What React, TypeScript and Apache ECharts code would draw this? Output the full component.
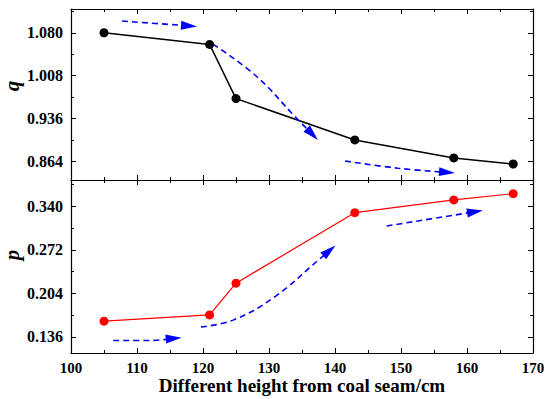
import React, { useEffect, useRef } from "react";
import * as echarts from "echarts";

const heights = [105, 121, 125, 143, 158, 167];
const qValues = [1.08, 1.0604, 0.9697, 0.9004, 0.8702, 0.8601];
const pValues = [0.1606, 0.1704, 0.22, 0.33, 0.3499, 0.3597];

const xRange = [100, 170];
const qRange = [0.8333, 1.1198];
const pRange = [0.111, 0.381];

const qTickLabels = [0.864, 0.936, 1.008, 1.08];
const qMinorTicks = [0.9, 0.972, 1.044, 1.116];
const pTickLabels = [0.136, 0.204, 0.272, 0.34];
const pMinorTicks = [0.17, 0.238, 0.306, 0.374];

// trend arrows (dashed, blue), points along each arrow in data units
const qArrowPaths = [
  [[107.73, 1.0996], [117.88, 1.0916]],
  [[121.52, 1.061], [128.14, 1.0067], [133.94, 0.9395], [136.56, 0.91]],
  [[141.52, 0.8652], [149.55, 0.853], [156.97, 0.8462]],
];
const pArrowPaths = [
  [[106.41, 0.1305], [111.97, 0.1305], [115.56, 0.1338]],
  [[119.7, 0.1518], [124.55, 0.1623], [130.91, 0.199], [137.47, 0.256], [139.14, 0.2706]],
  [[147.83, 0.3092], [161.21, 0.3314]],
];

const xTitle = "Different height from coal seam/cm";

const FONT = "Liberation Serif, Times New Roman, serif";

function xAxisDef(gridIndex: number, position: string, showLabels: boolean) {
  return {
    type: "value",
    gridIndex,
    position,
    min: xRange[0],
    max: xRange[1],
    interval: 10,
    axisLine: { show: true, onZero: false, lineStyle: { color: "#000", width: 1.2 } },
    axisTick: { show: true, inside: true, length: 5, lineStyle: { color: "#000" } },
    minorTick: { show: true, splitNumber: 2, length: 3, lineStyle: { color: "#000" } },
    splitLine: { show: false },
    axisLabel: {
      show: showLabels,
      margin: 7,
      color: "#000",
      fontFamily: FONT,
      fontWeight: "bold",
      fontSize: 15,
    },
    ...(showLabels
      ? {
          name: xTitle,
          nameLocation: "middle",
          nameGap: 23,
          nameTextStyle: { color: "#000", fontFamily: FONT, fontWeight: "bold", fontSize: 19 },
        }
      : {}),
  };
}

function yAxisDef(
  gridIndex: number,
  position: string,
  range: number[],
  ticks: number[],
  major: boolean,
  showLabels: boolean
) {
  return {
    type: "value",
    gridIndex,
    position,
    min: range[0],
    max: range[1],
    axisLine: { show: major, onZero: false, lineStyle: { color: "#000", width: 1.2 } },
    axisTick: {
      show: true,
      inside: true,
      length: major ? 5 : 3,
      customValues: ticks,
      lineStyle: { color: "#000" },
    },
    splitLine: { show: false },
    axisLabel: {
      show: showLabels,
      customValues: ticks,
      margin: 8,
      color: "#000",
      fontFamily: FONT,
      fontWeight: "bold",
      fontSize: 16,
      formatter: (v: number) => v.toFixed(3),
    },
  };
}

function arrowSeries(paths: number[][][], xAxisIndex: number, yAxisIndex: number) {
  return paths.map((pts) => {
    const last = pts[pts.length - 1];
    const prev = pts[pts.length - 2];
    const k = 0.1;
    const near = [last[0] - (last[0] - prev[0]) * k, last[1] - (last[1] - prev[1]) * k];
    return {
      type: "line",
      xAxisIndex,
      yAxisIndex,
      data: pts,
      smooth: 0.4,
      symbol: "none",
      silent: true,
      lineStyle: { color: "#0000ff", width: 1.6, type: [6, 4] },
      itemStyle: { color: "#0000ff" },
      markLine: {
        silent: true,
        symbol: ["none", "triangle"],
        symbolSize: [9, 16],
        label: { show: false },
        emphasis: { disabled: true },
        lineStyle: { color: "#0000ff", width: 1.6, type: "solid" },
        itemStyle: { color: "#0000ff" },
        data: [[{ coord: near }, { coord: last }]],
      },
    };
  });
}

export default function App() {
  const ref = useRef<HTMLDivElement>(null);
  useEffect(() => {
    if (!ref.current) return;
    const chart = echarts.init(ref.current, undefined, { renderer: "svg" });
    chart.setOption({
      animation: false,
      backgroundColor: "#fff",
      grid: [
        { left: 71, top: 9, width: 462, height: 171 },
        { left: 71, top: 180, width: 462, height: 173 },
      ],
      xAxis: [
        xAxisDef(0, "bottom", false),
        xAxisDef(0, "top", false),
        xAxisDef(1, "bottom", true),
        xAxisDef(1, "top", false),
      ],
      yAxis: [
        yAxisDef(0, "left", qRange, qTickLabels, true, true),
        yAxisDef(0, "right", qRange, qTickLabels, true, false),
        yAxisDef(0, "left", qRange, qMinorTicks, false, false),
        yAxisDef(0, "right", qRange, qMinorTicks, false, false),
        yAxisDef(1, "left", pRange, pTickLabels, true, true),
        yAxisDef(1, "right", pRange, pTickLabels, true, false),
        yAxisDef(1, "left", pRange, pMinorTicks, false, false),
        yAxisDef(1, "right", pRange, pMinorTicks, false, false),
      ],
      graphic: [
        {
          type: "text",
          x: 12,
          y: 86,
          rotation: Math.PI / 2,
          style: {
            text: "q",
            fill: "#000",
            font: `italic bold 21px ${FONT}`,
            align: "center",
            verticalAlign: "middle",
          },
        },
        {
          type: "text",
          x: 12,
          y: 255,
          rotation: Math.PI / 2,
          style: {
            text: "p",
            fill: "#000",
            font: `italic bold 21px ${FONT}`,
            align: "center",
            verticalAlign: "middle",
          },
        },
      ],
      series: [
        {
          name: "q",
          type: "line",
          xAxisIndex: 0,
          yAxisIndex: 0,
          data: heights.map((h, i) => [h, qValues[i]]),
          symbol: "circle",
          symbolSize: 9,
          itemStyle: { color: "#000" },
          lineStyle: { color: "#000", width: 1.5 },
          silent: true,
          z: 3,
        },
        {
          name: "p",
          type: "line",
          xAxisIndex: 2,
          yAxisIndex: 4,
          data: heights.map((h, i) => [h, pValues[i]]),
          symbol: "circle",
          symbolSize: 9,
          itemStyle: { color: "#ff0000" },
          lineStyle: { color: "#ff0000", width: 1.2 },
          silent: true,
          z: 3,
        },
        ...arrowSeries(qArrowPaths, 0, 0),
        ...arrowSeries(pArrowPaths, 2, 4),
      ],
    });
    return () => chart.dispose();
  }, []);
  return (
    <div
      ref={ref}
      style={{ position: "fixed", left: 0, top: 0, width: 550, height: 399 }}
    />
  );
}
